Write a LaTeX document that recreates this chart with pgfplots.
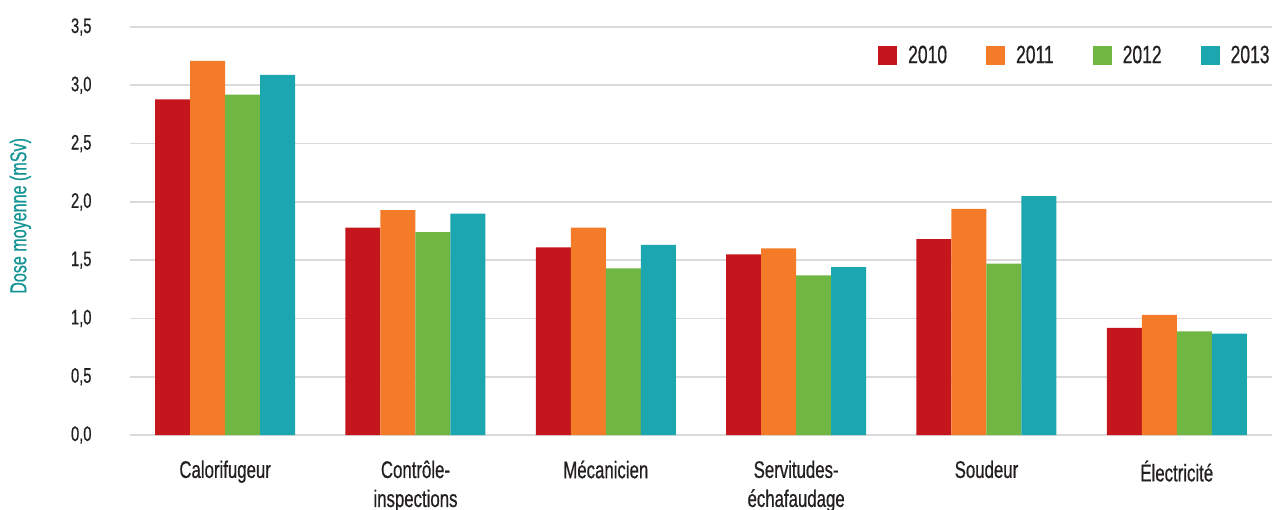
\documentclass[border=0pt]{standalone}
\usepackage{fontspec}
\setmainfont{Liberation Sans}[FakeStretch=0.7, FakeBold=0.6]
\usepackage{pgfplots}
\pgfplotsset{compat=1.18}

\definecolor{cA}{HTML}{C4161C}
\definecolor{cB}{HTML}{F47C28}
\definecolor{cC}{HTML}{70B643}
\definecolor{cD}{HTML}{1CA6B0}
\definecolor{labteal}{HTML}{139494}
\definecolor{txt}{HTML}{231F20}
\definecolor{gridgray}{HTML}{DADADA}

\begin{document}
\begin{tikzpicture}
\begin{axis}[
  scale only axis, width=1142bp, height=408bp,
  ybar=0pt, bar width=35bp,
  xmin=-0.5, xmax=5.5, ymin=0, ymax=3.5,
  xtick={0,1,2,3,4,5},
  xticklabels={Calorifugeur,{Contrôle-\\inspections},Mécanicien,{Servitudes-\\échafaudage},Soudeur,Électricité},
  ytick={0,0.5,1,1.5,2,2.5,3,3.5},
  yticklabel={\pgfmathprintnumber{\tick}},
  /pgf/number format/.cd, fixed, fixed zerofill, precision=1, use comma, assume math mode=true,
  /pgfplots/.cd,
  axis line style={draw=none},
  major tick length=0pt,
  ymajorgrids, grid style={gridgray, line width=1.6bp},
  yticklabel style={font=\fontsize{21bp}{25bp}\selectfont, text=txt, xshift=-35bp},
  xticklabel style={align=center, font=\fontsize{24bp}{29bp}\selectfont, text=txt, yshift=-22bp},
  ylabel={Dose moyenne (mSv)},
  ylabel style={at={(axis description cs:-0.096,0.537)}, anchor=center, rotate=0,
    font=\fontsize{23bp}{27bp}\selectfont, text=labteal},
  legend columns=4,
  legend image code/.code={\fill[#1] (0bp,-9.5bp) rectangle (19bp,9.5bp);},
  legend style={at={(axis description cs:0.655,0.931)}, anchor=west, draw=none, fill=none,
    inner sep=0pt, font=\fontsize{25bp}{29bp}\selectfont, text=txt,
    /tikz/every odd column/.append style={column sep=9bp},
    /tikz/every even column/.append style={column sep=37bp}},
  every axis plot/.append style={draw=none},
  clip=false,
]
\addplot[fill=cA] coordinates {(0,2.88) (1,1.78) (2,1.61) (3,1.55) (4,1.68) (5,0.92)};
\addplot[fill=cB] coordinates {(0,3.21) (1,1.93) (2,1.78) (3,1.60) (4,1.94) (5,1.03)};
\addplot[fill=cC] coordinates {(0,2.92) (1,1.74) (2,1.43) (3,1.37) (4,1.47) (5,0.89)};
\addplot[fill=cD] coordinates {(0,3.09) (1,1.90) (2,1.63) (3,1.44) (4,2.05) (5,0.87)};
\legend{2010,2011,2012,2013}
\end{axis}
% fix the page to the full chart frame
\pgfresetboundingbox
\path ([xshift=-130bp,yshift=-75bp]current axis.south west) rectangle ++(1277bp,510bp);
\end{tikzpicture}
\end{document}
